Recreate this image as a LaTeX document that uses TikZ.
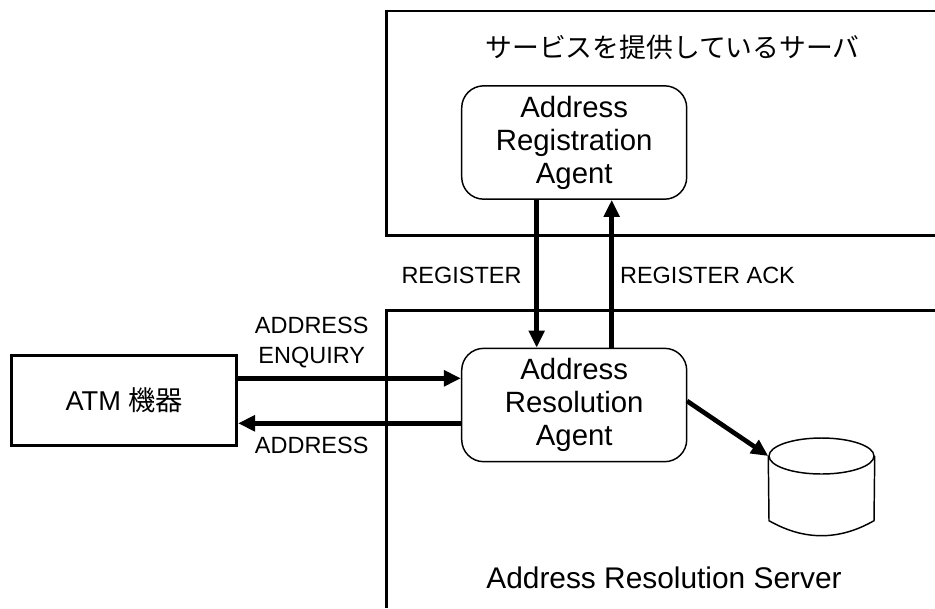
\documentclass[tikz,border=0pt]{standalone}
\usepackage{fontspec}
\setmainfont{Liberation Sans}
\newfontfamily\cjk{Noto Sans CJK JP}
\usetikzlibrary{arrows.meta,shapes.geometric}
\tikzset{
  agent/.style={draw=black,line width=1.1pt,rounded corners=16.5pt,minimum width=168.75pt,minimum height=85pt,inner sep=0pt,align=center,font=\fontsize{22}{24.75}\selectfont},
  wall/.style={draw=black,line width=2.2pt,line join=miter},
  flow/.style={draw=black,line width=3.5pt,-{Triangle[length=12.75pt,width=11.5pt]}},
  small/.style={inner sep=0pt,align=center,font=\fontsize{17.6}{22.5}\selectfont},
  big/.style={inner sep=0pt,font=\fontsize{22.4}{26}\selectfont},
  thin line/.style={draw=black,line width=1.1pt}
}
\begin{document}
\begin{tikzpicture}[x=0.75pt,y=-0.75pt]
\useasboundingbox (0,0) rectangle (935,608);
% open-ended boxes
\draw[wall] (935,11) -- (386.5,11) -- (386.5,235.5) -- (935,235.5);
\draw[wall] (935,310.5) -- (386.5,310.5) -- (386.5,608);
% nodes
\node[agent] (reg) at (574.2,142.5) {Address\\Registration\\Agent};
\node[agent] (res) at (574.2,405) {Address\\Resolution\\Agent};
\node[draw=black,line width=2.2pt,minimum width=168.5pt,minimum height=67pt,inner sep=0pt,font=\fontsize{20.4}{24}\selectfont] (atm) at (124.2,400.5) {ATM {\cjk 機器}};
\node[ellipse,thin line,minimum width=78.75pt,minimum height=27pt,inner sep=0pt] (dbtop) at (821.5,456) {};
\coordinate (dbbl) at (769,520.7);
\coordinate (dbbr) at (874,520.7);
\coordinate (dn) at (536.7,300);
\coordinate (up) at (611.7,300);
\coordinate (enq) at (300,378.3);
\coordinate (adr) at (300,423.3);
\coordinate (diag) at (687,401);
% cylinder body
\draw[thin line] (dbtop.west) -- (dbbl) .. controls (804,540.7) and (839,540.7) .. (dbbr) -- (dbtop.east);
% connectors
\draw[flow] (dn |- reg.south) -- (dn |- res.north);
\draw[flow] (up |- res.north) -- (up |- reg.south);
\draw[flow] (enq -| atm.east) -- (enq -| res.west);
\draw[flow] (adr -| res.west) -- (adr -| atm.east);
\draw[flow] (diag) -- (dbtop.west);
% labels
\node[inner sep=0pt,font=\fontsize{20.1}{26}\selectfont] (title) at (672.5,47) {\cjk サービスを提供しているサーバ};
\node[big] (server) at (664,578) {Address Resolution Server};
\node[small] (lreg) at (461.5,275) {REGISTER};
\node[small] (lack) at (707.5,275) {REGISTER ACK};
\node[small] (lenq) at (311.7,343) {ADDRESS\\ENQUIRY};
\node[small] (ladr) at (311.7,445.5) {ADDRESS};
\end{tikzpicture}
\end{document}
